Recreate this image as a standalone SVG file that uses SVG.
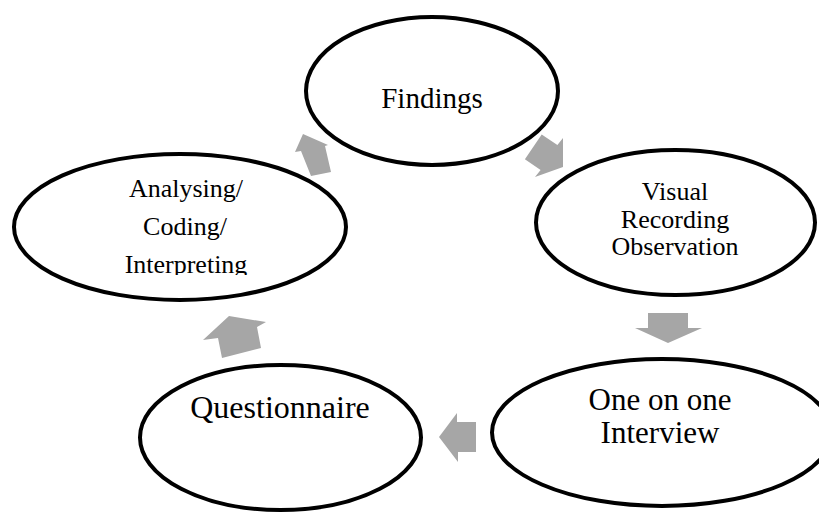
<svg xmlns="http://www.w3.org/2000/svg" width="819" height="513" viewBox="0 0 819 513">
<style>
.node ellipse{fill:#ffffff;stroke:#000000;stroke-width:4}
.arrow{fill:#A6A6A6;stroke:none}
text{font-family:"Liberation Serif","Times New Roman",serif;fill:#000000;text-anchor:middle}
</style>
<defs>
<clipPath id="clipInterp"><rect x="0" y="150" width="360" height="125"/></clipPath>
</defs>
<rect width="819" height="513" fill="#ffffff"/>
<g id="connectors">
<polygon class="arrow" points="303,134 328,145 325,146 331,172 311,176 301,151 295,152"/>
<polygon class="arrow" points="541.7,134.4 557.4,145.1 563,138 563,167 535,177 540.6,169.9 524.9,159.2"/>
<polygon class="arrow" points="648,313 688,313 688,328 702,328 668,343 635,328 648,328"/>
<polygon class="arrow" points="476,422 476,452 458,452 458,462 439,437 457,413 457,422"/>
<polygon class="arrow" points="229,316 266,322 257,327 261,348 222,358 218,338 203,340"/>
</g>
<g id="node-findings" class="node">
<ellipse cx="432" cy="91" rx="126" ry="74"/>
<text x="432" y="108" font-size="29">Findings</text>
</g>
<g id="node-analysing" class="node">
<ellipse cx="180" cy="227" rx="166" ry="73"/>
<g clip-path="url(#clipInterp)" font-size="26">
<text x="186" y="197">Analysing/</text>
<text x="185" y="235">Coding/</text>
<text x="186" y="273">Interpreting</text>
</g>
</g>
<g id="node-visual" class="node">
<ellipse cx="675.5" cy="222.5" rx="139.5" ry="72.5"/>
<text font-size="26"><tspan x="675" y="200">Visual</tspan><tspan x="675" y="227.5">Recording</tspan><tspan x="675" y="255">Observation</tspan></text>
</g>
<g id="node-interview" class="node">
<ellipse cx="662" cy="432.5" rx="170" ry="73.5"/>
<text font-size="31"><tspan x="660" y="410">One on one</tspan><tspan x="660" y="443">Interview</tspan></text>
</g>
<g id="node-questionnaire" class="node">
<ellipse cx="280.5" cy="437.5" rx="140.5" ry="72.5"/>
<text x="280" y="418" font-size="32">Questionnaire</text>
</g>
</svg>
